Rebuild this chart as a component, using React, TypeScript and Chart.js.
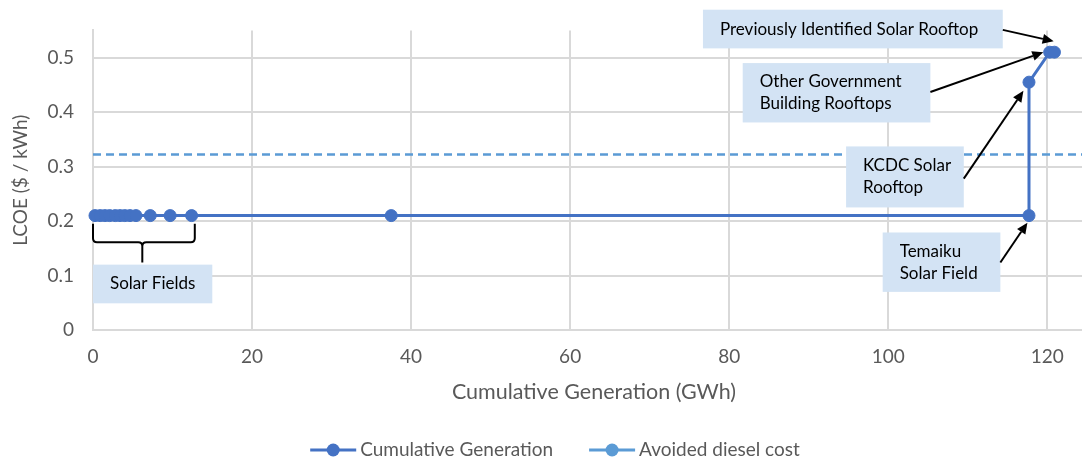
import React, { useEffect, useRef } from "react";
import { Chart, registerables } from "chart.js";

Chart.register(...registerables);

// ---------- data ----------
const genX = [0.25, 0.9, 1.5, 2.1, 2.8, 3.4, 4.0, 4.65, 5.4, 7.2, 9.7, 12.4, 37.5, 117.7, 117.7, 120.3, 120.9];
const genY = [0.21, 0.21, 0.21, 0.21, 0.21, 0.21, 0.21, 0.21, 0.21, 0.21, 0.21, 0.21, 0.21, 0.21, 0.455, 0.51, 0.51];
const dieselX = [0, 126];
const dieselY = [0.322, 0.322];
const xTickValues = [0, 20, 40, 60, 80, 100, 120];
const yTickValues = [0, 0.1, 0.2, 0.3, 0.4, 0.5];
const seriesNames = ["Cumulative Generation", "Avoided diesel cost"];

// ---------- callouts (data units) ----------
const callouts = [
  { lines: ["Solar Fields"], box: [0, 15.0, 0.12, 0.049] },
  { lines: ["Temaiku", "Solar Field"], box: [99.3, 114.1, 0.179, 0.07], from: [114.1, 0.124], to: [117.5, 0.197] },
  { lines: ["KCDC Solar", "Rooftop"], box: [94.7, 109.5, 0.337, 0.225], from: [109.5, 0.278], to: [117.0, 0.439] },
  { lines: ["Other Government", "Building Rooftops"], box: [81.7, 105.3, 0.49, 0.381], from: [105.3, 0.437], to: [119.5, 0.51] },
  { lines: ["Previously Identified Solar Rooftop"], box: [76.7, 114.4, 0.588, 0.517], from: [114.4, 0.551], to: [120.8, 0.53] },
];
const brace = { x0: 0, x1: 12.8, xm: 6.2, yTop: 0.195, yMid: 0.161, yBot: 0.124 };

const FONT = "Lato, 'Noto Sans', sans-serif";
const AXIS_COLOR = "#595959";
const GRID_COLOR = "#D9D9D9";
const C1 = "#4472C4";
const C2 = "#5B9BD5";
const BOX_FILL = "#D3E3F4";

function arrow(ctx: CanvasRenderingContext2D, x1: number, y1: number, x2: number, y2: number) {
  const ang = Math.atan2(y2 - y1, x2 - x1);
  const hl = 11, hw = 5;
  const bx = x2 - hl * Math.cos(ang), by = y2 - hl * Math.sin(ang);
  ctx.beginPath();
  ctx.moveTo(x1, y1);
  ctx.lineTo(bx, by);
  ctx.stroke();
  ctx.beginPath();
  ctx.moveTo(x2, y2);
  ctx.lineTo(bx + hw * Math.sin(ang), by - hw * Math.cos(ang));
  ctx.lineTo(bx - hw * Math.sin(ang), by + hw * Math.cos(ang));
  ctx.closePath();
  ctx.fill();
}

const overlayPlugin = {
  id: "overlay",
  afterDraw(chart: any) {
    const { ctx, scales } = chart;
    const xs = scales.x, ys = scales.y;
    const px = (v: number) => xs.getPixelForValue(v);
    const py = (v: number) => ys.getPixelForValue(v);
    ctx.save();

    // brace
    ctx.strokeStyle = "#000";
    ctx.lineWidth = 2;
    const bx0 = px(brace.x0), bx1 = px(brace.x1), bxm = px(brace.xm);
    const bt = py(brace.yTop), bm = py(brace.yMid), bb = py(brace.yBot);
    const r = 4;
    ctx.beginPath();
    ctx.moveTo(bx0, bt);
    ctx.lineTo(bx0, bm - r);
    ctx.quadraticCurveTo(bx0, bm, bx0 + r, bm);
    ctx.lineTo(bxm - r, bm);
    ctx.quadraticCurveTo(bxm, bm, bxm, bm + r);
    ctx.lineTo(bxm, bb);
    ctx.moveTo(bx1, bt);
    ctx.lineTo(bx1, bm - r);
    ctx.quadraticCurveTo(bx1, bm, bx1 - r, bm);
    ctx.lineTo(bxm + r, bm);
    ctx.quadraticCurveTo(bxm, bm, bxm, bm + r);
    ctx.stroke();

    // boxes
    ctx.font = `17px ${FONT}`;
    ctx.textAlign = "left";
    ctx.textBaseline = "middle";
    for (const c of callouts) {
      const l = px(c.box[0]), rr = px(c.box[1]);
      const t = py(c.box[2]), b = py(c.box[3]);
      ctx.fillStyle = BOX_FILL;
      ctx.fillRect(l, t, rr - l, b - t);
      ctx.fillStyle = "#000";
      const cy = (t + b) / 2;
      const n = c.lines.length;
      c.lines.forEach((ln, i) => ctx.fillText(ln, l + 17, cy + (i - (n - 1) / 2) * 22));
    }

    // arrows
    ctx.strokeStyle = "#000";
    ctx.fillStyle = "#000";
    ctx.lineWidth = 2;
    for (const c of callouts) {
      if (!c.from || !c.to) continue;
      arrow(ctx, px(c.from[0]), py(c.from[1]), px(c.to[0]), py(c.to[1]));
    }

    // legend
    ctx.font = `19px ${FONT}`;
    ctx.textBaseline = "middle";
    const w1 = ctx.measureText(seriesNames[0]).width;
    const w2 = ctx.measureText(seriesNames[1]).width;
    const lineLen = 46, gapT = 4, gapItems = 36;
    const total = lineLen + gapT + w1 + gapItems + lineLen + gapT + w2;
    let cx = chart.width / 2 - total / 2;
    const ly = 450;
    const items = [
      { color: C1, text: seriesNames[0], w: w1 },
      { color: C2, text: seriesNames[1], w: w2 },
    ];
    items.forEach((it, i) => {
      ctx.strokeStyle = it.color;
      ctx.fillStyle = it.color;
      ctx.lineWidth = 3;
      ctx.beginPath();
      ctx.moveTo(cx, ly);
      ctx.lineTo(cx + lineLen, ly);
      ctx.stroke();
      ctx.beginPath();
      ctx.arc(cx + lineLen / 2, ly, 6.5, 0, Math.PI * 2);
      ctx.fill();
      ctx.fillStyle = AXIS_COLOR;
      ctx.fillText(it.text, cx + lineLen + gapT, ly);
      cx += lineLen + gapT + it.w + (i === 0 ? gapItems : 0);
    });

    ctx.restore();
  },
};

export default function App() {
  const ref = useRef<HTMLCanvasElement | null>(null);
  useEffect(() => {
    if (!ref.current) return;
    const chart = new Chart(ref.current, {
      type: "scatter",
      data: {
        datasets: [
          {
            label: seriesNames[0],
            data: genX.map((x, i) => ({ x, y: genY[i] })),
            showLine: true,
            borderColor: C1,
            backgroundColor: C1,
            borderWidth: 3,
            pointRadius: 6,
            pointBorderWidth: 1,
            pointBackgroundColor: C1,
            pointBorderColor: C1,
            clip: false as any,
          },
          {
            label: seriesNames[1],
            data: dieselX.map((x, i) => ({ x, y: dieselY[i] })),
            showLine: true,
            borderColor: C2,
            backgroundColor: C2,
            borderWidth: 2.5,
            borderDash: [8, 5],
            pointRadius: 0,
          },
        ],
      },
      options: {
        animation: false,
        responsive: false,
        layout: { padding: { top: 28, right: 15, bottom: 40, left: 0 } },
        plugins: { legend: { display: false }, tooltip: { enabled: false } },
        scales: {
          x: {
            type: "linear",
            min: 0,
            max: 126,
            afterFit: (s: any) => { s.height = 94; },
            afterBuildTicks: (s: any) => { s.ticks = xTickValues.map((v) => ({ value: v })); },
            ticks: { color: AXIS_COLOR, font: { family: FONT, size: 19 }, padding: 15, maxRotation: 0 },
            grid: { color: GRID_COLOR, lineWidth: 2, drawTicks: false },
            border: { color: GRID_COLOR, width: 2 },
            title: {
              display: true,
              text: "Cumulative Generation (GWh)",
              color: AXIS_COLOR,
              font: { family: FONT, size: 21.5 },
              padding: { top: 0, bottom: 19 },
            },
          },
          y: {
            type: "linear",
            min: 0,
            max: 0.55,
            afterFit: (s: any) => { s.width = 93; },
            afterBuildTicks: (s: any) => { s.ticks = yTickValues.map((v) => ({ value: v })); },
            ticks: {
              color: AXIS_COLOR,
              font: { family: FONT, size: 19 },
              padding: 19,
              callback: (v: any) => String(Math.round(Number(v) * 10) / 10),
            },
            grid: { color: GRID_COLOR, lineWidth: 2, drawTicks: false },
            border: { color: GRID_COLOR, width: 2 },
            title: {
              display: true,
              text: "LCOE ($ / kWh)",
              color: AXIS_COLOR,
              font: { family: FONT, size: 19 },
              padding: { top: 9, bottom: 0 },
            },
          },
        },
      },
      plugins: [overlayPlugin],
    });
    return () => chart.destroy();
  }, []);
  return (
    <div style={{ position: "fixed", left: 0, top: 0, width: 1082, height: 464, overflow: "hidden", background: "#fff" }}>
      <canvas ref={ref} width={1110} height={464} style={{ display: "block", width: 1110, height: 464 }} />
    </div>
  );
}
